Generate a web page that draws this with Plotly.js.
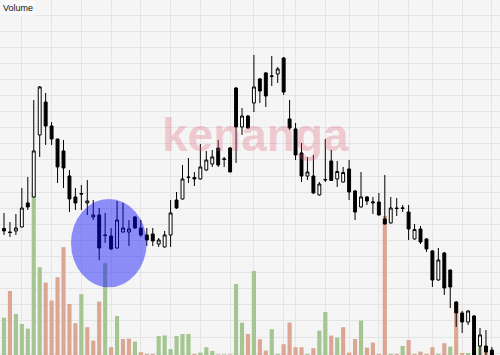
<!DOCTYPE html>
<html>
<head>
<meta charset="utf-8">
<script src="https://cdn.plot.ly/plotly-3.0.1.min.js"></script>
<style>
  html, body { margin: 0; padding: 0; background: #f5f5f5; }
  #chart { width: 500px; height: 355px; }
</style>
</head>
<body>
<div id="chart"></div>
<script>
// Daily prices (RM)
const openPrice = [0.5344,0.53,0.5313,0.5363,0.5663,0.5738,0.6513,0.6925,0.6625,0.6463,
0.6313,0.60,0.5738,0.5781,0.5663,0.5488,0.5513,0.5263,0.525,0.51,
0.53,0.53,0.5488,0.535,0.5263,0.5275,0.515,0.5113,0.5263,0.57,
0.5713,0.5988,0.5981,0.5963,0.6075,0.615,0.635,0.6206,0.635,0.71,
0.6613,0.675,0.6913,0.7213,0.7288,0.7244,0.7275,0.7475,0.6713,0.6588,
0.6288,0.60,0.60,0.5763,0.595,0.6188,0.5963,0.5925,0.6088,0.5813,
0.5613,0.5738,0.5663,0.5675,0.5463,0.5413,0.56,0.5594,0.555,0.5213,
0.5338,0.5213,0.5063,0.47,0.5038,0.4825,0.4425,0.4288,0.4175,0.425,
0.3875,0.3875,0.3825];
const highPrice = [0.5538,0.5425,0.5525,0.585,0.5988,0.695,0.7125,0.7038,0.6675,0.6463,
0.645,0.6075,0.585,0.5888,0.595,0.57,0.56,0.5538,0.535,0.5688,
0.5663,0.545,0.55,0.545,0.535,0.535,0.5225,0.5313,0.57,0.58,
0.6138,0.6225,0.605,0.64,0.6313,0.6325,0.645,0.6238,0.6363,0.7113,
0.685,0.6763,0.7513,0.7225,0.73,0.75,0.7363,0.7488,0.695,0.6663,
0.6413,0.6238,0.6263,0.5925,0.6463,0.6325,0.6188,0.6113,0.62,0.5825,
0.605,0.575,0.5738,0.5788,0.6013,0.5738,0.5725,0.5638,0.5638,0.54,
0.5375,0.5219,0.5075,0.51,0.505,0.4831,0.4438,0.4313,0.4319,0.4263,
0.41,0.4075,0.3863];
const lowPrice = [0.5263,0.5238,0.5263,0.5356,0.5575,0.5731,0.6238,0.6388,0.6388,0.5913,
0.585,0.555,0.5575,0.5575,0.5513,0.545,0.495,0.5163,0.5075,0.5094,
0.5294,0.5125,0.5338,0.5238,0.5125,0.5125,0.5113,0.5106,0.5113,0.5588,
0.5706,0.5913,0.5875,0.5956,0.6063,0.6113,0.6113,0.6113,0.605,0.6163,
0.6513,0.6594,0.68,0.6913,0.6863,0.7125,0.7163,0.7013,0.6575,0.62,
0.5925,0.595,0.5775,0.5756,0.5925,0.5938,0.5863,0.5919,0.57,0.545,
0.5606,0.5638,0.5525,0.5506,0.5394,0.5406,0.55,0.555,0.52,0.5206,
0.515,0.505,0.4613,0.4694,0.4513,0.435,0.4113,0.4038,0.4138,0.37,
0.375,0.3725,0.3675];
const closePrice = [0.5313,0.5294,0.535,0.56,0.5613,0.6313,0.7113,0.6625,0.6463,0.6113,
0.61,0.5713,0.5663,0.5775,0.5688,0.5513,0.51,0.5256,0.5088,0.545,
0.535,0.5338,0.535,0.5263,0.52,0.5188,0.52,0.5263,0.5538,0.56,
0.5963,0.5981,0.5963,0.6113,0.62,0.6238,0.6138,0.6213,0.605,0.6613,
0.675,0.66,0.7113,0.7063,0.70,0.725,0.7338,0.705,0.66,0.6263,
0.60,0.605,0.5788,0.59,0.5956,0.5944,0.6056,0.6044,0.58,0.555,
0.5738,0.5688,0.5675,0.5513,0.54,0.56,0.5594,0.56,0.5338,0.5331,
0.5175,0.5088,0.47,0.495,0.46,0.4613,0.4288,0.4175,0.4313,0.375,
0.4013,0.38,0.375];
// Volume (million shares)
const volumeM = [1.87,3.20,2.05,1.55,1.32,8.2,4.39,3.62,2.72,3.89,
5.39,2.55,1.59,3.04,1.39,0.72,2.67,4.59,0.39,1.95,
0.80,0.82,0.67,0.14,0.05,0.05,0.95,0.98,0.30,0.95,
1.05,1.05,0.05,0.12,0.39,0.20,0.03,0.03,0.03,3.55,
1.62,1.05,4.20,0.79,0.22,1.29,0.05,0.54,1.62,0.39,
0.39,0.05,0.34,1.22,2.15,0.97,0.87,1.39,0.12,0.80,
1.72,0.37,0.62,0.05,6.95,0.05,0.05,0.45,0.75,0.05,
0.17,0.05,0.39,0.05,0.59,0.42,2.65,0.10,0.10,0.30,
0.45,0.34,0.20];
// Session indexes where each trading week starts
const weekStarts = [3,8,13,18,23,28,33,38,42,47,49,54,58,63,68,72,77,82];

const dayIdx = closePrice.map((_, i) => i);
const volColors = closePrice.map((c, i) =>
  (i === 0 || c >= closePrice[i - 1]) ? '#a5c592' : '#dba793');

const volTrace = {
  type: 'bar', x: dayIdx, y: volumeM, xaxis: 'x', yaxis: 'y',
  marker: { color: volColors, line: { width: 0 } },
  width: 0.7, hoverinfo: 'skip', showlegend: false
};
const candleTrace = {
  type: 'candlestick', x: dayIdx,
  open: openPrice, high: highPrice, low: lowPrice, close: closePrice,
  xaxis: 'x', yaxis: 'y2',
  increasing: { line: { color: '#000', width: 1 }, fillcolor: '#ffffff' },
  decreasing: { line: { color: '#000', width: 1 }, fillcolor: '#000000' },
  whiskerwidth: 0, showlegend: false, hoverinfo: 'skip'
};

const layout = {
  width: 500, height: 355,
  margin: { l: 0, r: 0, t: 0, b: 0 },
  paper_bgcolor: '#f5f5f5', plot_bgcolor: '#f5f5f5',
  showlegend: false,
  xaxis: {
    range: [-0.672, 83.36], tickmode: 'array', tickvals: weekStarts,
    showticklabels: false, ticks: '', showgrid: true, gridcolor: '#e4e4e4', gridwidth: 1,
    zeroline: false, showline: false, rangeslider: { visible: false }, fixedrange: true
  },
  yaxis: {
    range: [0, 17.75], tick0: 0.095, dtick: 0.805,
    showticklabels: false, ticks: '', showgrid: true, gridcolor: '#e4e4e4', gridwidth: 1,
    zeroline: false, showline: false, fixedrange: true
  },
  yaxis2: {
    overlaying: 'y', range: [0.37625, 0.82], visible: false,
    showgrid: false, zeroline: false, fixedrange: true
  },
  shapes: [{
    type: 'circle', xref: 'x', yref: 'y2', layer: 'above',
    x0: 11.26, x1: 23.98, y0: 0.4609, y1: 0.5713,
    fillcolor: 'rgba(10,10,250,0.44)', line: { width: 0 }
  }],
  annotations: [
    {
      text: '<b>kenanga</b>', xref: 'paper', yref: 'paper', x: 0.511, y: 0.62,
      xanchor: 'center', yanchor: 'middle', showarrow: false,
      font: { family: 'Liberation Sans, Arial, sans-serif', size: 46, color: 'rgba(222,95,115,0.3)' }
    },
    {
      text: 'Volume', xref: 'paper', yref: 'paper', x: 0, y: 1,
      xanchor: 'left', yanchor: 'top', showarrow: false,
      font: { family: 'Liberation Sans, Arial, sans-serif', size: 9, color: '#111' },
      bgcolor: '#f9f9f9', borderpad: 2
    }
  ]
};

Plotly.newPlot('chart', [volTrace, candleTrace], layout, { staticPlot: true, displayModeBar: false });
</script>
</body>
</html>
